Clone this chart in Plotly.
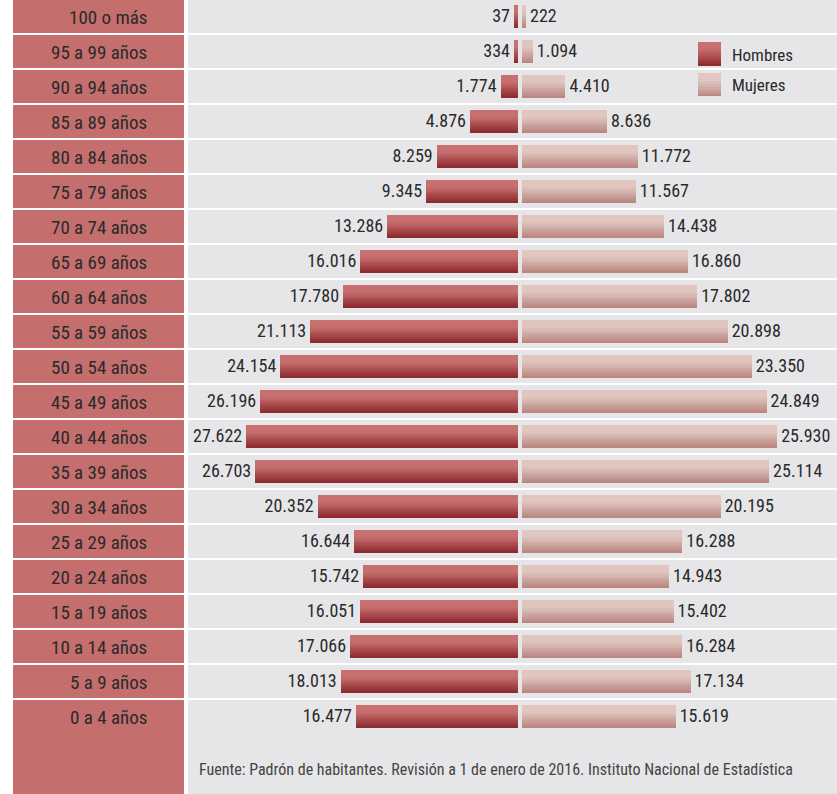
import plotly.graph_objects as go

# ---- data ----
age_groups = ["100 o más", "95 a 99 años", "90 a 94 años", "85 a 89 años", "80 a 84 años",
              "75 a 79 años", "70 a 74 años", "65 a 69 años", "60 a 64 años", "55 a 59 años",
              "50 a 54 años", "45 a 49 años", "40 a 44 años", "35 a 39 años", "30 a 34 años",
              "25 a 29 años", "20 a 24 años", "15 a 19 años", "10 a 14 años", "5 a 9 años",
              "0 a 4 años"]
hombres = [37, 334, 1774, 4876, 8259, 9345, 13286, 16016, 17780, 21113, 24154, 26196,
           27622, 26703, 20352, 16644, 15742, 16051, 17066, 18013, 16477]
mujeres = [222, 1094, 4410, 8636, 11772, 11567, 14438, 16860, 17802, 20898, 23350, 24849,
           25930, 25114, 20195, 16288, 14943, 15402, 16284, 17134, 15619]
series_names = ["Hombres", "Mujeres"]
source_text = "Fuente: Padrón de habitantes. Revisión a 1 de enero de 2016. Instituto Nacional de Estadística"

# ---- geometry / style ----
W, H = 837, 794
K = 0.00984          # px per unit
ZERO_PX = 520
G = 2 / K            # half gap at centre in data units
MIN_LEN = 4 / K      # minimum visible bar length
ROW_PX = 35
ROW0_PX = 17
BAR_W = 0.63
NB = 12
FONT = "Roboto Condensed, DejaVu Sans Condensed, sans-serif"
TXT = "#2a2a2a"

def px2y(py):
    return (py - ROW0_PX) / ROW_PX

def hexrgb(h):
    h = h.lstrip("#")
    return tuple(int(h[i:i + 2], 16) for i in (0, 2, 4))

def mix(c1, c2, t):
    a, b = hexrgb(c1), hexrgb(c2)
    return "rgb(%d,%d,%d)" % tuple(round(a[i] + (b[i] - a[i]) * t) for i in range(3))

def grad(light, dark, t):
    s = max(0.0, (t - 0.25) / 0.75)
    return mix(light, dark, s ** 1.1)

H_LIGHT, H_DARK = "#c87070", "#8a272c"
M_LIGHT, M_DARK = "#e1c6c0", "#b7847d"

idx = list(range(len(age_groups)))
h_len = [max(v, MIN_LEN) for v in hombres]
m_len = [max(v, MIN_LEN) for v in mujeres]
fig = go.Figure()

for j in range(NB):
    t = (j + 0.5) / NB
    off = -BAR_W / 2 + j * BAR_W / NB
    fig.add_trace(go.Bar(orientation="h", y=idx, x=[-v for v in h_len], base=-G,
                         width=BAR_W / NB + 0.002, offset=off,
                         marker=dict(color=grad(H_LIGHT, H_DARK, t), line=dict(width=0)),
                         showlegend=False, hoverinfo="skip"))
    fig.add_trace(go.Bar(orientation="h", y=idx, x=m_len, base=G,
                         width=BAR_W / NB + 0.002, offset=off,
                         marker=dict(color=grad(M_LIGHT, M_DARK, t), line=dict(width=0)),
                         showlegend=False, hoverinfo="skip"))

def fmt(v):
    return f"{v:,}".replace(",", ".")

PAD = 4 / K
fig.add_trace(go.Scatter(x=[-(v + G) - PAD for v in h_len], y=idx, mode="text",
                         text=[fmt(v) for v in hombres], textposition="middle left",
                         textfont=dict(family=FONT, size=18, color=TXT), showlegend=False, hoverinfo="skip"))
fig.add_trace(go.Scatter(x=[v + G + PAD for v in m_len], y=idx, mode="text",
                         text=[fmt(v) for v in mujeres], textposition="middle right",
                         textfont=dict(family=FONT, size=18, color=TXT), showlegend=False, hoverinfo="skip"))

shapes = []
shapes.append(dict(type="rect", xref="paper", yref="paper", x0=13 / W, x1=184 / W, y0=0, y1=1,
                   fillcolor="#c46e6e", line=dict(width=0), layer="below"))
shapes.append(dict(type="rect", xref="paper", yref="paper", x0=188 / W, x1=1, y0=0, y1=1,
                   fillcolor="#e6e6e8", line=dict(width=0), layer="below"))
for i in range(len(age_groups) - 1):
    yy = px2y(ROW_PX * i + 34)
    shapes.append(dict(type="line", xref="paper", yref="y", x0=0, x1=1, y0=yy, y1=yy,
                       line=dict(color="white", width=2), layer="below"))

def swatch(x0, y0, x1, y1, light, dark):
    n = 12
    for j in range(n):
        t = (j + 0.5) / n
        ya = y0 + (y1 - y0) * j / n
        yb = y0 + (y1 - y0) * (j + 1) / n
        shapes.append(dict(type="rect", xref="paper", yref="paper", x0=x0 / W, x1=x1 / W,
                           y0=1 - yb / H, y1=1 - ya / H, fillcolor=grad(light, dark, t),
                           line=dict(width=0), layer="above"))

swatch(698, 42, 721, 66, H_LIGHT, H_DARK)
swatch(698, 73, 721, 96, M_LIGHT, M_DARK)

annotations = []
for i, lab in enumerate(age_groups):
    annotations.append(dict(xref="paper", yref="y", x=149 / W, y=i, text=lab, showarrow=False,
                            xanchor="right", yanchor="middle", font=dict(family=FONT, size=19, color=TXT)))
annotations.append(dict(xref="paper", yref="paper", x=730 / W, y=1 - 55 / H, text=series_names[0], showarrow=False,
                        xanchor="left", yanchor="middle", font=dict(family=FONT, size=17, color=TXT)))
annotations.append(dict(xref="paper", yref="paper", x=730 / W, y=1 - 85 / H, text=series_names[1], showarrow=False,
                        xanchor="left", yanchor="middle", font=dict(family=FONT, size=17, color=TXT)))
annotations.append(dict(xref="paper", yref="paper", x=197 / W, y=1 - 769 / H, text=source_text, showarrow=False,
                        xanchor="left", yanchor="middle", font=dict(family=FONT, size=16, color="#444444")))

fig.update_layout(
    width=W, height=H, margin=dict(l=0, r=0, t=0, b=0),
    paper_bgcolor="white", plot_bgcolor="rgba(0,0,0,0)",
    barmode="overlay", bargap=0,
    xaxis=dict(range=[-ZERO_PX / K, (W - ZERO_PX) / K], visible=False, fixedrange=True),
    yaxis=dict(range=[px2y(H), px2y(0)], visible=False, fixedrange=True),
    shapes=shapes, annotations=annotations, showlegend=False,
)

fig.write_html("out.html", config={"displayModeBar": False},
               post_script="document.body.style.margin='0';")
